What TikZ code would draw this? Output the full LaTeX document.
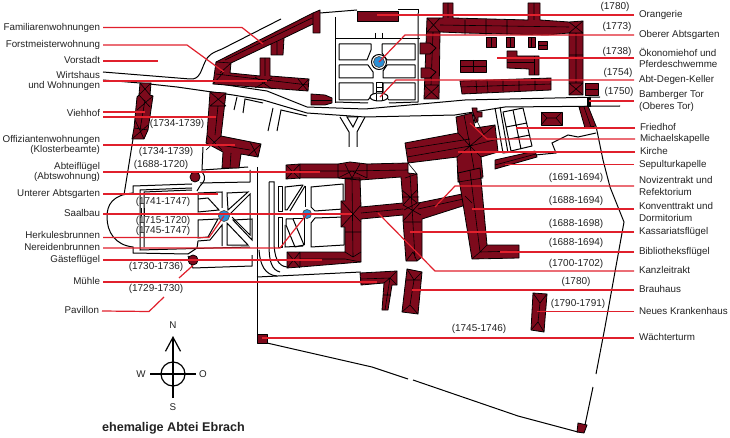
\documentclass[tikz,border=0pt]{standalone}
\usepackage{fontspec}
\setmainfont{Liberation Sans}
\usepackage{tikz}
\usetikzlibrary{arrows.meta}
\definecolor{abteirot}{HTML}{7D0A1C}
\definecolor{leaderrot}{HTML}{E0202C}
\definecolor{brunnen}{HTML}{2A8FD6}
\definecolor{schrift}{HTML}{222222}
\tikzstyle{bldg} = [draw=black, fill=abteirot, line width=0.8pt, line join=round]
\tikzstyle{ridge} = [draw=black, line width=0.6pt]
\tikzstyle{wall} = [draw=black, line width=1pt]
\tikzstyle{bed} = [draw=black, line width=1pt, fill=white, line join=round]
\tikzstyle{leader} = [draw=leaderrot, line width=1.2pt]
\tikzstyle{fountain} = [circle, draw=black!70, fill=brunnen, line width=0.7pt, inner sep=0pt]
\tikzstyle{pavillon} = [circle, draw=black, fill=abteirot, line width=0.8pt, inner sep=0pt, minimum size=10pt]
\tikzstyle{lbl} = [text=schrift, font=\fontsize{9.8}{12}\selectfont, inner sep=0pt, outer sep=3pt]
\tikzstyle{lbl_w} = [lbl, anchor=east, text height=7.5pt, text depth=2.2pt]
\tikzstyle{lbl_o} = [lbl, anchor=west, outer sep=5pt, text height=7.5pt, text depth=2.2pt]
\tikzstyle{lbl_w2} = [lbl, anchor=east, align=right, font=\fontsize{9.8}{9.2}\selectfont]
\tikzstyle{lbl_o2} = [lbl, anchor=west, outer sep=5pt, align=left, font=\fontsize{9.8}{11.6}\selectfont]
\tikzstyle{jahr} = [lbl, outer sep=0pt, font=\fontsize{10}{12}\selectfont]
\begin{document}
\begin{tikzpicture}[x=1pt, y=-1pt]
	\useasboundingbox (0,0) rectangle (730,438);

	% roads and walls
	\draw [wall] (103,72) -- (190,79) .. controls (200,80) and (201,70) .. (205,62) .. controls (208,55) and (212,53) .. (222,49) -- (281,19);
	\draw [wall] (320,13) -- (357,10);
	\draw [wall] (398,10) -- (418,10) -- (418,13);
	\draw [wall] (103,80) -- (140,83) -- (177,87) -- (233,95) -- (263,100) -- (307,113) -- (365,117) -- (455,115) -- (505,107) -- (620,106);
	\draw [wall] (213,83) -- (267,91) -- (307,107) -- (365,109) -- (465,100) -- (600,97);
	\draw [wall] (237,97) -- (234,110);
	\draw [wall] (243,113) -- (245,99) -- (263,103);
	\draw [wall] (268,131) -- (273,108);
	\draw [wall] (277,131) -- (281,110) -- (307,116);
	\draw [wall] (340,117) -- (349,132) -- (349,147);
	\draw [wall] (357,147) -- (357,132) -- (365,117);
	\draw [wall] (347,117) -- (358,117) -- (353,127) -- cycle;
	\draw [wall] (133,139) -- (124,195);
	\draw [wall] (203,147) -- (202,170) -- (248,167);
	\draw [wall] (257,167) -- (257,338);
	\draw [wall] (257,277) -- (361,272);
	\draw [wall] (259,250) .. controls (260,265) and (265,275) .. (277,276);
	\draw [wall] (269,182) -- (274,182) -- (274,240) .. controls (274,258) and (278,266) .. (287,267);
	\draw [wall] (269,182) -- (269,245) .. controls (269,262) and (272,270) .. (280,272);
	\draw [wall] (596,126) -- (603,160) -- (610,187) -- (624,222) -- (605,327) -- (596,374);
	\draw [wall] (593,387) -- (585,425);
	\draw [wall] (267,343) -- (372,367) -- (408,379);
	\draw [wall] (413,380) -- (518,416) -- (578,432);
	\draw [wall] (535,155) -- (556,153) -- (552,143) -- (562,138) -- (568,135) -- (578,137) -- (596,133);

	% unterer Abtsgarten
	\draw [wall] (192,184) -- (133,186) -- (133,193) .. controls (112,195) and (107,205) .. (107,217) .. controls (107,232) and (115,245) .. (133,247) -- (133,253) -- (188,254);
	\draw [wall] (192,188) -- (140,190) -- (140,250) -- (250,247);
	\draw [wall] (192,190) -- (144,192) -- (144,247);
	\draw [wall] (141,208) -- (141,216);
	\draw [wall] (144,208) -- (144,216);
	\draw [wall] (200,183) -- (250,182) -- (250,170);
	\draw [wall] (188,256) -- (193,268) -- (252,266) -- (252,255);
	\draw [wall] (202,172) .. controls (207,178) and (204,182) .. (200,186) -- (197,191);
	\draw [wall] (198,193) -- (222,192) -- (222,208);
	\draw [wall] (198,193) -- (198,212) -- (219,210) -- (208,198) -- (198,199);
	\draw [wall] (227,193) -- (248,192) -- (228,210) -- cycle;
	\draw [wall] (230,214) -- (250,194) -- (250,235) -- (232,217);
	\draw [wall] (233,220) -- (252,219) -- (252,240) -- cycle;
	\draw [wall] (227,223) -- (227,245) -- (248,245) -- cycle;
	\draw [wall] (198,220) -- (218,219) -- (208,237) -- (198,238) -- cycle;
	\draw [wall] (198,241) -- (210,240) -- (222,225) -- (222,246);
	\draw [wall] (198,241) -- (197,248) -- (188,254);

	% oberer Abtsgarten
	\draw [wall] (335,17) -- (335,103);
	\draw [wall] (335,39) -- (420,39);
	\draw [wall] (335,102) -- (368,103);
	\draw [wall] (389,103) -- (418,102) -- (418,13);
	\draw [wall] (375,33) -- (375,39);
	\draw [wall] (382,33) -- (382,39);
	\draw [bed] (339,44) -- (371,44) -- (371,50) -- (367,60) -- (339,60) -- cycle;
	\draw [bed] (382,44) -- (415,44) -- (415,60) -- (387,60) -- (382,53) -- cycle;
	\draw [bed] (339,65) -- (368,65) -- (373,72) -- (373,78) -- (339,78) -- cycle;
	\draw [bed] (387,65) -- (415,65) -- (415,78) -- (383,78) -- (383,71) -- cycle;
	\draw [bed] (339,83) -- (373,83) -- (373,94) -- (368,100) -- (339,100) -- cycle;
	\draw [bed] (383,83) -- (415,83) -- (415,100) -- (389,100) -- (383,94) -- cycle;
	\draw [bed] (376,83) rectangle (382,94);
	\draw [ridge] (376,87) -- (382,87) (376,91) -- (382,91);
	\draw [bed] (379,97) ellipse (9 and 4);
	\draw [ridge] (376,94) -- (376,101) (382,94) -- (382,101);
	\node [fountain, minimum size=11pt] (obrunnen) at (379,62) {};
	\draw [wall] (379,62) circle (7.5);

	% rechter Garten und Friedhof
	\draw [bed] (278,187) rectangle (282,212);
	\draw [bed] (278,218) rectangle (282,247);
	\draw [bed] (285,187) -- (303,185) -- (287,210) -- (285,210) -- cycle;
	\draw [wall] (305,186) -- (290,211);
	\draw [wall] (305,186) -- (305,207);
	\draw [bed] (311,187) -- (343,184) -- (343,209) -- (315,211) -- (311,207) -- cycle;
	\draw [bed] (315,218) -- (344,217) -- (344,245) -- (311,247) -- (311,223) -- cycle;
	\draw [bed] (286,219) -- (293,219) -- (304,245) -- (295,247) -- (286,225) -- cycle;
	\draw [wall] (293,219) -- (304,219) -- (304,245);
	\draw [wall] (285,225) -- (285,247) -- (303,246);
	\node [fountain, minimum size=9pt] (ubrunnen2) at (307,214) {};
	\draw [wall] (495,108) -- (503,153) -- (511,152);
	\draw [wall] (500,107) -- (508,153);
	\draw [bed] (503,112) -- (523,108) -- (532,146) -- (511,151) -- cycle;
	\draw [ridge, line width=1pt] (513,110) -- (521,149) (506,127) -- (527,123) (509,139) -- (530,135);

	% Gebaeude
	\draw [bldg] (216,62) -- (313,13) -- (320,10) -- (320,33) -- (313,33) -- (313,24) -- (284,38) -- (283,55) -- (271,55) -- (271,44) -- (231,63) -- (230,73) -- (260,76) -- (260,58) -- (270,58) -- (270,76) -- (309,79) -- (308,91) -- (213,84) -- cycle;
	\draw [ridge] (225,60) -- (312,18) (313,13) -- (313,24) (277,42) -- (277,55) (271,44) -- (284,38) (216,62) -- (231,63) (265,58) -- (265,76) (216,74) -- (308,85) (220,73) -- (231,63) (255,77) -- (272,89) (255,88) -- (272,78) (298,79) -- (308,91) (298,90) -- (309,79) (224,72) -- (213,84);
	\draw [bldg] (140,83) -- (151,83) -- (150,95) -- (153,96) -- (148,130) -- (144,139) -- (132,139) -- (134,128) -- (137,97) -- (139,95) -- cycle;
	\draw [ridge] (140,83) -- (150,95) (151,83) -- (139,95) (139,95) -- (150,107) (153,96) -- (137,110) (145,100) -- (140,130) (134,128) -- (148,130) (135,120) -- (144,139) (132,139) -- (148,125);
	\draw [bldg] (210,92) -- (226,93) -- (221,136) -- (261,144) -- (258,157) -- (241,154) -- (239,168) -- (222,168) -- (223,152) -- (206,143) -- (207,135) -- cycle;
	\draw [ridge] (210,92) -- (226,106) (226,93) -- (210,106) (210,106) -- (226,106) (218,106) -- (215,135) (207,135) -- (222,150) (221,136) -- (206,150) (220,145) -- (250,150) (250,142) -- (258,157) (261,144) -- (248,156) (231,153) -- (230,168);
	\draw [bldg] (311,94) -- (325,95) -- (332,98) -- (332,103) -- (325,105) -- (311,105) -- cycle;
	\draw [ridge] (311,100) -- (332,100);
	\draw [bldg] (357,11) rectangle (398,21);
	\draw [bldg] (427,18) -- (443,18) -- (443,3) -- (453,3) -- (453,18) -- (528,20) -- (528,3) -- (540,3) -- (540,20) -- (569,22) -- (583,21) -- (583,95) -- (569,95) -- (569,33) -- (547,35) -- (465,33) -- (440,32) -- (439,99) -- (424,99) -- cycle;
	\draw [ridge] (427,18) -- (440,32) (440,18) -- (427,32) (427,32) -- (440,32) (424,85) -- (439,99) (439,85) -- (424,99) (424,85) -- (439,85) (433,32) -- (431,85) (440,25) -- (569,27) (465,20) -- (465,35) (486,20) -- (486,35) (507,20) -- (507,35) (448,3) -- (448,18) (534,3) -- (534,20) (569,22) -- (583,33) (583,21) -- (569,33) (569,33) -- (583,33) (569,83) -- (583,95) (583,83) -- (569,95) (569,83) -- (583,83) (576,33) -- (576,83) (569,55) -- (583,55);
	\draw [bldg] (420,43) -- (430,43) -- (436,48) -- (430,54) -- (420,54) -- cycle;
	\draw [bldg] (421,68) -- (430,68) -- (436,72) -- (430,78) -- (421,78) -- cycle;
	\draw [bldg] (486,37) rectangle (496,47);
	\draw [bldg] (506,37) rectangle (514,47);
	\draw [bldg] (528,37) rectangle (535,47);
	\draw [bldg] (538,41) rectangle (547,49);
	\draw [ridge] (491,37) -- (491,47) (510,37) -- (510,47) (531,37) -- (531,47) (538,45) -- (547,45);
	\draw [bldg] (460,60) rectangle (486,72);
	\draw [ridge] (460,66) -- (486,66) (473,60) -- (473,72);
	\draw [bldg] (507,51) -- (517,51) -- (517,56) -- (539,56) -- (539,75) -- (529,75) -- (529,69) -- (507,68) -- cycle;
	\draw [ridge] (507,62) -- (534,62) (534,56) -- (534,75);
	\draw [bldg] (460,81) -- (551,78) -- (551,90) -- (462,94) -- cycle;
	\draw [ridge] (461,87) -- (551,84) (476,81) -- (477,93) (487,80) -- (488,92) (503,80) -- (503,91) (519,79) -- (519,91) (535,79) -- (535,90);
	\draw [bldg] (585,83) rectangle (598,95);
	\draw [ridge] (585,89) -- (598,89);
	\draw [bldg] (579,107) -- (588,106) -- (596,126) -- (585,128) -- cycle;
	\draw [ridge] (584,107) -- (591,127);
	\draw [bldg, draw=black, fill=black] (587,97) rectangle (590,106);
	\draw [bldg] (541,112) rectangle (562,125);
	\draw [ridge] (541,112) -- (547,118) -- (541,125) (562,112) -- (556,118) -- (562,125) (547,118) -- (556,118);

	% Kirche
	\draw [bldg] (472,108) -- (477,108) -- (477,112) -- (482,112) -- (482,117) -- (478,117) -- (478,121) -- (475,123) -- cycle;
	\draw [bldg] (456,117) -- (472,113) -- (475,128) -- (495,125) -- (498,152) -- (481,157) -- (483,177) -- (458,182) -- (457,157) -- (408,163) -- (405,143) -- (458,133) -- cycle;
	\draw [ridge] (464,115) -- (470,146) -- (476,180) (470,146) -- (498,139) (406,149) -- (470,139) (407,157) -- (470,146) (470,146) -- (495,125) (470,146) -- (457,157) (470,146) -- (481,157) (470,146) -- (458,133) (473,113) -- (484,135);
	\draw [bldg] (495,160) -- (535,151) -- (537,157) -- (495,169) -- cycle;
	\draw [ridge] (495,165) -- (536,154);
	% Konventbau
	\draw [bldg] (286,165) -- (300,164) -- (338,164) -- (350,162) -- (367,164) -- (408,163) -- (408,173) -- (417,174) -- (418,203) -- (467,193) -- (472,203) -- (422,219) -- (422,257) -- (417,261) -- (406,261) -- (403,220) -- (403,215) -- (361,219) -- (361,262) -- (300,267) -- (287,268) -- (287,252) -- (300,252) -- (345,252) -- (345,227) -- (341,227) -- (341,201) -- (345,201) -- (345,178) -- (360,178) -- (361,207) -- (403,203) -- (401,177) -- (360,180) -- (338,178) -- (300,178) -- (286,179) -- cycle;
	\draw [ridge] (286,165) -- (300,179) (300,164) -- (286,179) (300,164) -- (300,179) (300,171) -- (345,171) -- (408,170) (345,164) -- (352,178) (360,164) -- (352,178) (338,178) -- (352,171) (367,178) -- (352,171) (338,164) -- (338,178) (367,164) -- (367,178) (352,178) -- (353,257) (341,201) -- (353,214) -- (341,227) (361,205) -- (353,214) -- (361,222) (345,232) -- (361,232) (361,213) -- (403,209) (300,259) -- (345,259) -- (361,262) (287,252) -- (300,268) (300,252) -- (287,268) (300,252) -- (300,267) (345,252) -- (353,257) -- (361,252) (410,174) -- (412,207) -- (415,258) (402,190) -- (417,203) -- (404,210) (417,190) -- (403,205) -- (421,215) (420,203) -- (403,221) (402,197) -- (419,197) (404,222) -- (421,222) (406,261) -- (413,252) -- (417,261) (418,209) -- (468,198) (405,178) -- (417,174) -- (408,163);
	\draw [bldg] (458,173) -- (480,168) -- (487,245) -- (519,245) -- (519,258) -- (472,259) -- cycle;
	\draw [ridge] (470,171) -- (480,252) -- (519,251) (472,259) -- (480,252) -- (487,245) (458,182) -- (483,178) (465,196) -- (472,203);
	\draw [bldg] (360,273) -- (397,271) -- (397,285) -- (392,285) -- (388,310) -- (382,310) -- (384,283) -- (361,285) -- cycle;
	\draw [ridge] (361,279) -- (390,278) -- (385,310) (397,271) -- (390,278) -- (397,285) (383,295) -- (391,295) (384,283) -- (390,278);
	\draw [bldg] (407,269) -- (422,272) -- (418,314) -- (402,312) -- cycle;
	\draw [ridge] (407,269) -- (414,280) -- (422,272) (414,280) -- (410,305) (402,312) -- (410,305) -- (418,314) (406,280) -- (421,280);
	\draw [bldg] (533,293) -- (547,294) -- (544,332) -- (531,330) -- cycle;
	\draw [ridge] (533,293) -- (540,303) -- (547,294) (540,303) -- (538,322) (531,330) -- (538,322) -- (544,332);
	\draw [bldg] (257,334) rectangle (267,343);
	\draw [bldg] (578,423) -- (587,425) -- (584,433) -- (577,432) -- cycle;
	\node [pavillon] (pav_n) at (195,177) {};
	\node [pavillon] (pav_s) at (193,260) {};
	\node [fountain, minimum size=11pt] (ubrunnen) at (224,216) {};

	% Beschriftung links
	\node [lbl_w] (familiar) at (103,27.5) {Familiarenwohnungen};
	\node [lbl_w] (forst) at (103,45) {Forstmeisterwohnung};
	\node [lbl_w] (vorstadt) at (103,61) {Vorstadt};
	\node [lbl_w2] (wirtshaus) at (103,81) {Wirtshaus\\und Wohnungen};
	\node [lbl_w] (viehhof) at (103,114) {Viehhof};
	\node [lbl_w2] (offizianten) at (103,145) {Offiziantenwohnungen\\(Klosterbeamte)};
	\node [lbl_w2] (abteifl) at (103,172) {Abteiflügel\\(Abtswohnung)};
	\node [lbl_w] (ugarten) at (103,194) {Unterer Abtsgarten};
	\node [lbl_w] (saalbau) at (103,214) {Saalbau};
	\node [lbl_w] (herkules) at (103,236) {Herkulesbrunnen};
	\node [lbl_w] (nereiden) at (103,248) {Nereidenbrunnen};
	\node [lbl_w] (gaeste) at (103,260) {Gästeflügel};
	\node [lbl_w] (muehle) at (103,282) {Mühle};
	\node [lbl_w] (pavillon) at (102,311) {Pavillon};

	% Beschriftung rechts
	\node [lbl_o] (orangerie) at (634,15) {Orangerie};
	\node [lbl_o] (ogarten) at (634,35) {Oberer Abtsgarten};
	\node [lbl_o2] (oekonomie) at (634,58) {Ökonomiehof und\\Pferdeschwemme};
	\node [lbl_o] (keller) at (634,80) {Abt-Degen-Keller};
	\node [lbl_o2] (tor) at (634,101) {Bamberger Tor\\(Oberes Tor)};
	\node [lbl_o] (friedhof) at (635,128) {Friedhof};
	\node [lbl_o] (michael) at (635,139) {Michaelskapelle};
	\node [lbl_o] (kirche) at (635,152) {Kirche};
	\node [lbl_o] (sepultur) at (634,164.5) {Sepulturkapelle};
	\node [lbl_o2] (noviz) at (634,186) {Novizentrakt und\\Refektorium};
	\node [lbl_o2] (konvent) at (634,212) {Konventtrakt und\\Dormitorium};
	\node [lbl_o] (kassariat) at (634,232) {Kassariatsflügel};
	\node [lbl_o] (biblio) at (634,252) {Bibliotheksflügel};
	\node [lbl_o] (kanzlei) at (634,271) {Kanzleitrakt};
	\node [lbl_o] (brauhaus) at (634,290) {Brauhaus};
	\node [lbl_o] (kranken) at (634,311.5) {Neues Krankenhaus};
	\node [lbl_o] (waechter) at (634,338) {Wächterturm};

	% Bauzeiten
	\node [jahr] (j1) at (177,124) {(1734-1739)};
	\node [jahr] (j2) at (166,152) {(1734-1739)};
	\node [jahr] (j3) at (161,165) {(1688-1720)};
	\node [jahr] (j4) at (163,202) {(1741-1747)};
	\node [jahr] (j5) at (163,221) {(1715-1720)};
	\node [jahr] (j6) at (163,231) {(1745-1747)};
	\node [jahr] (j7) at (156,267) {(1730-1736)};
	\node [jahr] (j8) at (156,289) {(1729-1730)};
	\node [jahr] (j9) at (615,7) {(1780)};
	\node [jahr] (j10) at (617,27) {(1773)};
	\node [jahr] (j11) at (617,52) {(1738)};
	\node [jahr] (j12) at (618,73) {(1754)};
	\node [jahr] (j13) at (619,92) {(1750)};
	\node [jahr] (j14) at (576,178) {(1691-1694)};
	\node [jahr] (j15) at (576,201) {(1688-1694)};
	\node [jahr] (j16) at (576,224) {(1688-1698)};
	\node [jahr] (j17) at (576,243) {(1688-1694)};
	\node [jahr] (j18) at (576,264) {(1700-1702)};
	\node [jahr] (j19) at (576,282) {(1780)};
	\node [jahr] (j20) at (578,304) {(1790-1791)};
	\node [jahr] (j21) at (479,329) {(1745-1746)};

	% Hinweislinien
	\path [leader] (familiar.east) -- (242,27.5) -- (263,44);
	\path [leader] (forst.east) -- (187,45) -- (224,72);
	\path [leader] (vorstadt.east) -- (158,61);
	\path [leader] (wirtshaus.east) -- (267,81);
	\path [leader] ([yshift=2pt]viehhof.east) -- (145,112);
	\path [leader] ([yshift=-3pt]viehhof.east) -- (216,117);
	\path [leader] (offizianten.east) -- (235,145);
	\path [leader] (abteifl.east) -- (320,172);
	\path [leader] (ugarten.east) -- (218,194);
	\path [leader] (saalbau.east) -- (352,214);
	\path [leader] ([yshift=-1.5pt]herkules.east) -- (209,237.5) -- (ubrunnen.center);
	\path [leader] (nereiden.east) -- (280,248) -- (ubrunnen2.center);
	\path [leader] (gaeste.east) -- (322,260);
	\path [leader] (muehle.east) -- (377,282);
	\path [leader] (pavillon.east) -- (149,311.5) -- (164,297);
	\path [leader] (179,278) -- (pav_s.south);
	\path [leader] (orangerie.west) -- (377,15);
	\path [leader] (ogarten.west) -- (405,35) -- (obrunnen.center);
	\path [leader] (oekonomie.west) -- (497,58);
	\path [leader] (keller.west) -- (396,80) -- (380,97);
	\path [leader] (tor.west) -- (589,101);
	\path [leader] (friedhof.west) -- (516,128);
	\path [leader] (michael.west) -- (487,139) -- (470,123);
	\path [leader] (kirche.west) -- (458,152);
	\path [leader] (sepultur.west) -- (505,164.5);
	\path [leader] (noviz.west) -- (455,186) -- (435,207);
	\path [leader] ([yshift=3pt]konvent.west) -- (472,209);
	\path [leader] (kassariat.west) -- (410,232);
	\path [leader] (biblio.west) -- (500,252);
	\path [leader] (kanzlei.west) -- (435,271) -- (378,213);
	\path [leader] (brauhaus.west) -- (412,290);
	\path [leader] (kranken.west) -- (537,311.5);
	\path [leader] (waechter.west) -- (262,338);

	% Kompass
	\node [draw=black, circle, line width=1.2pt, minimum size=24pt, inner sep=0pt] (kompass) at (173,374) {};
	\node [lbl, outer sep=1pt] (nord) at (173,325) {N};
	\node [lbl, outer sep=1pt] (sued) at (173,407) {S};
	\node [lbl, outer sep=1pt] (west) at (141,374) {W};
	\node [lbl, outer sep=1pt] (ost) at (203,374) {O};
	\draw [line width=1.2pt, -{Straight Barb[length=14pt, width=15pt]}] (173,398) -- (173,336);
	\draw [line width=1.2pt] (150,374) -- (196,374);
	\node [text=schrift, font=\bfseries\fontsize{12.6}{14}\selectfont, inner sep=0pt] (titel) at (173.5,428) {ehemalige Abtei Ebrach};
\end{tikzpicture}
\end{document}
